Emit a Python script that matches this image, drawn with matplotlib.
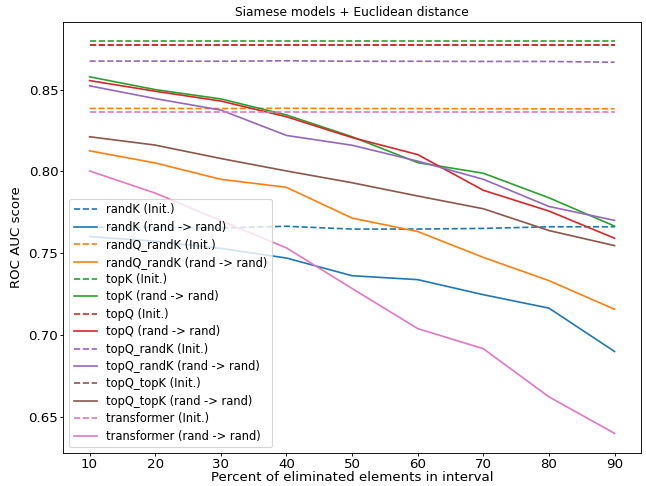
import matplotlib
matplotlib.use("Agg")
import matplotlib.pyplot as plt

# percent of eliminated elements
x = [10, 20, 30, 40, 50, 60, 70, 80, 90]

# init curves (dashed)
randK_init = [0.7660, 0.7658, 0.7655, 0.7665, 0.7648, 0.7648, 0.7652, 0.7662, 0.7662]
randQ_randK_init = [0.8385, 0.8385, 0.8384, 0.8386, 0.8384, 0.8384, 0.8383, 0.8382, 0.8383]
topK_init = [0.8794, 0.8794, 0.8794, 0.8794, 0.8794, 0.8794, 0.8794, 0.8794, 0.8794]
topQ_init = [0.8774, 0.8774, 0.8774, 0.8774, 0.8774, 0.8774, 0.8774, 0.8774, 0.8774]
topQ_randK_init = [0.8674, 0.8674, 0.8673, 0.8676, 0.8673, 0.8673, 0.8672, 0.8672, 0.8667]
topQ_topK_init = [0.8775, 0.8775, 0.8775, 0.8775, 0.8775, 0.8775, 0.8775, 0.8775, 0.8775]
transformer_init = [0.8366, 0.8366, 0.8366, 0.8366, 0.8366, 0.8366, 0.8366, 0.8366, 0.8366]

# rand -> rand curves (solid)
randK_rr = [0.7602, 0.7574, 0.7530, 0.7471, 0.7363, 0.7339, 0.7247, 0.7165, 0.6900]
randQ_randK_rr = [0.8126, 0.8052, 0.7952, 0.7903, 0.7715, 0.7633, 0.7475, 0.7333, 0.7158]
topK_rr = [0.8578, 0.8500, 0.8443, 0.8345, 0.8212, 0.8054, 0.7989, 0.7839, 0.7666]
topQ_rr = [0.8555, 0.8490, 0.8430, 0.8334, 0.8207, 0.8103, 0.7885, 0.7758, 0.7592]
topQ_randK_rr = [0.8523, 0.8445, 0.8375, 0.8220, 0.8160, 0.8063, 0.7952, 0.7786, 0.7701]
topQ_topK_rr = [0.8212, 0.8161, 0.8079, 0.8003, 0.7931, 0.7850, 0.7772, 0.7639, 0.7547]
transformer_rr = [0.8003, 0.7868, 0.7700, 0.7533, 0.7285, 0.7040, 0.6917, 0.6623, 0.6400]

models = ["randK", "randQ_randK", "topK", "topQ", "topQ_randK", "topQ_topK", "transformer"]
init_vals = [randK_init, randQ_randK_init, topK_init, topQ_init, topQ_randK_init, topQ_topK_init, transformer_init]
rr_vals = [randK_rr, randQ_randK_rr, topK_rr, topQ_rr, topQ_randK_rr, topQ_topK_rr, transformer_rr]
colors = ["tab:blue", "tab:orange", "tab:green", "tab:red", "tab:purple", "tab:brown", "tab:pink"]

fig = plt.figure(figsize=(646 / 80, 486 / 80), dpi=80)
ax = fig.add_subplot(111)
fig.subplots_adjust(left=0.098, right=0.992, top=0.955, bottom=0.068)

for name, iv, rv, c in zip(models, init_vals, rr_vals, colors):
    # brown init line sits under the others in the reference
    z = 1 if name == "topQ_topK" else 2
    ax.plot(x, iv, "--", color=c, label=name + " (Init.)", zorder=z)
    ax.plot(x, rv, "-", color=c, label=name + " (rand -> rand)", zorder=2)

ax.set_title("Siamese models + Euclidean distance", fontsize=11, pad=5)
ax.set_xlabel("Percent of eliminated elements in interval", fontsize=12, labelpad=0)
ax.set_ylabel("ROC AUC score", fontsize=12, labelpad=5)
ax.tick_params(labelsize=12, length=3, pad=1.5)
ax.set_xticks(x)
ax.legend(loc="lower left", fontsize=10.4, labelspacing=0.38)

plt.savefig("out.png", dpi=80)
